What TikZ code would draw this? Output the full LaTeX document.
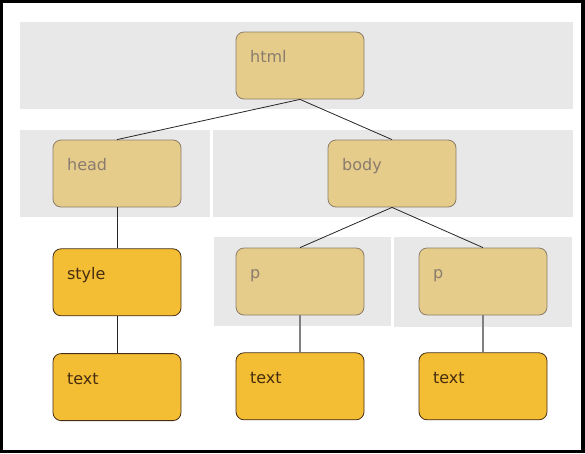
\documentclass[tikz,border=0pt]{standalone}
\usepackage{fontspec}
\setmainfont{DejaVu Sans}
\usetikzlibrary{positioning}

\definecolor{bandgray}{RGB}{232,232,232}
\definecolor{pale}{RGB}{230,204,138}
\definecolor{paleline}{RGB}{140,125,105}
\definecolor{paletext}{RGB}{138,124,110}
\definecolor{gold}{RGB}{244,190,52}
\definecolor{goldline}{RGB}{70,45,20}
\definecolor{goldtext}{RGB}{70,45,15}

\begin{document}
\begin{tikzpicture}[
            x=1pt, y=-1pt,
            node distance=37pt,
            tag box/.style={rectangle, rounded corners=8pt, minimum width=128pt, minimum height=67pt, inner sep=0pt},
            element/.style={tag box, fill=pale, draw=paleline, line width=0.8pt},
            leaf/.style={tag box, fill=gold, draw=goldline, line width=0.8pt},
            pale tag/.style={label={[font=\fontsize{16}{18}\selectfont, text=paletext, anchor=base west, xshift=11pt, yshift=-31pt]north west:#1}},
            gold tag/.style={label={[font=\fontsize{16}{18}\selectfont, text=goldtext, anchor=base west, xshift=11pt, yshift=-31pt]north west:#1}},
            tree edge/.style={draw=black!85, line width=0.8pt},
            text edge/.style={draw=black!50, line width=1.2pt}
        ]

            % --- frame and grey bands ---
            \useasboundingbox (0,0) rectangle (585,453);
            \fill[black] (0,0) rectangle (585,453);
            \fill[white] (3,3) rectangle (581,450);
            \fill[bandgray] (20,22) rectangle (573,109);
            \fill[bandgray] (20,130) rectangle (210,217);
            \fill[bandgray] (213,130) rectangle (573,217);
            \fill[bandgray] (214,237) rectangle (391,326);
            \fill[bandgray] (394,237) rectangle (572,327);

            % --- element nodes ---
            \node[element, pale tag=html] (html) at (300,65.5) {};
            \node[element, pale tag=head] (head) at (117,173.5) {};
            \node[element, pale tag=body] (body) at (392,173.5) {};
            \node[element, pale tag=p] (p1) at (300,281.5) {};
            \node[element, pale tag=p] (p2) at (483,281.5) {};

            % --- leaf nodes ---
            \node[leaf, gold tag=style] (style) [below=41pt of head] {};
            \node[leaf, gold tag=text] (text1) [below=of style] {};
            \node[leaf, gold tag=text] (text2) [below=of p1] {};
            \node[leaf, gold tag=text] (text3) [below=of p2] {};

            % --- connectors ---
            \draw[tree edge] (html.south) -- (head.north);
            \draw[tree edge] (html.south) -- (body.north);
            \draw[tree edge] (body.south) -- (p1.north);
            \draw[tree edge] (body.south) -- (p2.north);
            \draw[tree edge] (head) -- (style);
            \draw[tree edge] (style) -- (text1);
            \draw[text edge] (p1) -- (text2);
            \draw[text edge] (p2) -- (text3);

        \end{tikzpicture}
\end{document}
